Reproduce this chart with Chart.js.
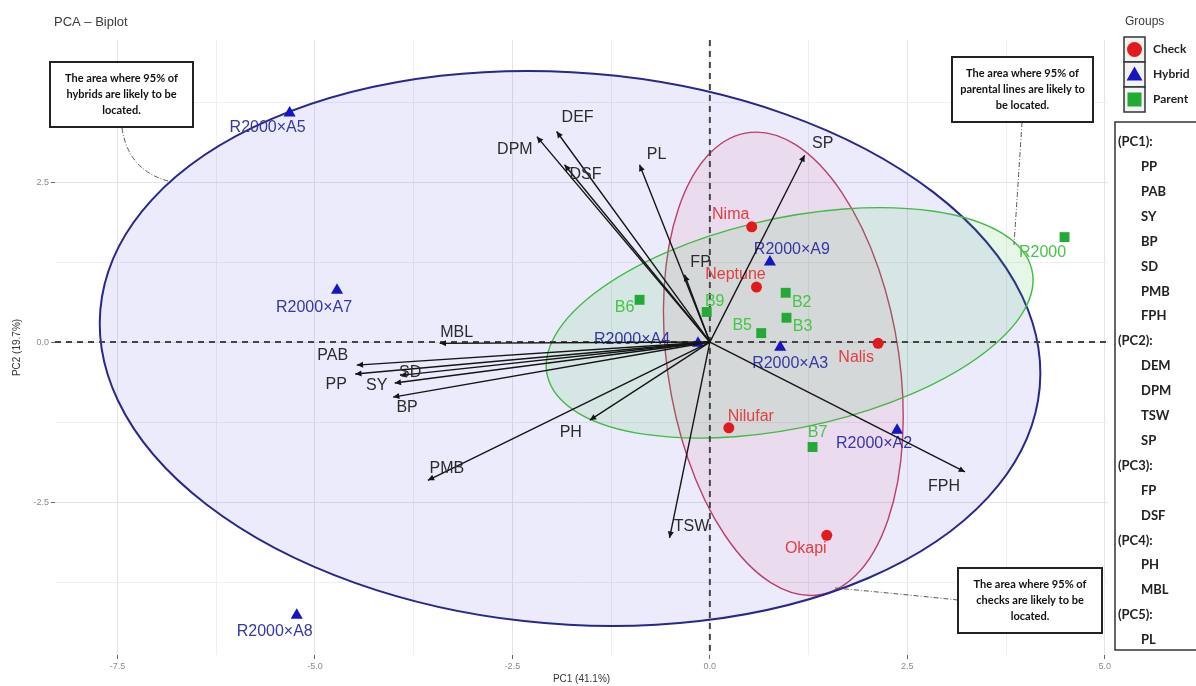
<!DOCTYPE html>
<html>
<head>
<meta charset="utf-8">
<script src="https://cdn.jsdelivr.net/npm/chart.js@4.4.1/dist/chart.umd.min.js"></script>
<style>
  html, body { margin: 0; padding: 0; background: #fff; }
</style>
</head>
<body>
<canvas id="biplot" width="1196" height="686"></canvas>
<script>
// individuals (PC1, PC2 scores)
let checkNames = ['Nima', 'Neptune', 'Nalis', 'Nilufar', 'Okapi'];
let checkX = [0.53, 0.59, 2.13, 0.24, 1.48];
let checkY = [1.80, 0.86, -0.02, -1.34, -3.02];

let hybridNames = ['R2000×A5', 'R2000×A7', 'R2000×A8', 'R2000×A9', 'R2000×A4', 'R2000×A3', 'R2000×A2'];
let hybridX = [-5.32, -4.72, -5.23, 0.76, -0.15, 0.89, 2.37];
let hybridY = [3.58, 0.81, -4.27, 1.25, -0.02, -0.08, -1.38];

let parentNames = ['R2000', 'B6', 'B9', 'B2', 'B3', 'B5', 'B7'];
let parentX = [4.49, -0.89, -0.04, 0.96, 0.97, 0.65, 1.30];
let parentY = [1.64, 0.66, 0.47, 0.77, 0.38, 0.14, -1.64];

// variable loadings (arrow tips)
let varNames = ['PP', 'PAB', 'SY', 'BP', 'SD', 'PMB', 'FPH', 'DEF', 'DPM', 'TSW', 'SP', 'FP', 'DSF', 'PH', 'MBL', 'PL'];
let varX = [-4.49, -4.47, -3.99, -4.01, -3.92, -3.57, 3.23, -1.94, -2.19, -0.51, 1.20, -0.32, -1.84, -1.52, -3.42, -0.89];
let varY = [-0.50, -0.36, -0.64, -0.86, -0.52, -2.16, -2.03, 3.29, 3.21, -3.06, 2.92, 1.05, 2.77, -1.22, -0.02, 2.77];

// 95% ellipses per group: centre, semi axes, rotation (degrees)
let ellipseGroups = ['Check', 'Hybrid', 'Parent'];
let ellipseCx = [0.93, -1.77, 1.01];
let ellipseCy = [-0.34, -0.10, 0.30];
let ellipseA = [3.64, 5.98, 3.18];
let ellipseB = [1.47, 4.30, 1.62];
let ellipseAngle = [-83.5, -7.8, 16.7];

// axis ticks
let xMajor = [-7.5, -5.0, -2.5, 0.0, 2.5, 5.0];
let xMinor = [-6.25, -3.75, -1.25, 1.25, 3.75];
let yMajor = [-2.5, 0.0, 2.5];
let yMinor = [-3.75, -1.25, 1.25, 3.75];

// legend contents
let pcHeaders = ['(PC1):', '(PC2):', '(PC3):', '(PC4):', '(PC5):'];
let pcMembers = [['PP', 'PAB', 'SY', 'BP', 'SD', 'PMB', 'FPH'], ['DEM', 'DPM', 'TSW', 'SP'], ['FP', 'DSF'], ['PH', 'MBL'], ['PL']];

// ---- styles, label nudges (pixels) ----
let groupColors = {Check: '#e31a1c', Hybrid: '#1515c4', Parent: '#23a936'};
let labelColors = {Check: '#df4040', Hybrid: '#3636a6', Parent: '#46c546'};
let ellipseFill = ['rgba(240,90,120,0.11)', 'rgba(70,70,225,0.11)', 'rgba(60,190,60,0.12)'];
let ellipseLine = ['#c8415a', '#27278c', '#45b845'];
let ellipseWidth = [1.4, 2, 1.4];

let checkNudge = [[-21, -12], [-21, -12], [-22, 14], [22, -11], [-21, 13]];
let hybridNudge = [[-22, 15], [-23, 17], [-22, 16], [22, -12], [-66, -4], [10, 16], [-23, 13]];
let parentNudge = [[-22, 15], [-15, 8], [8, -10], [16, 10], [16, 9], [-19, -8], [5, -14]];
let varNudge = [[-19, 11], [-24, -10], [-18, 3], [14, 10], [10, -3], [19, -12], [-21, 15], [21, -14],
                [-22, 13], [22, -11], [18, -12], [16, -12], [21, 10], [-19, 12], [17, -11], [17, -10]];

let notes = [
    {box: [50, 62, 143, 65], lines: ['The area where 95% of', 'hybrids are likely to be', 'located.'],
     lead: [[122, 128], [128, 170], [168, 181]]},
    {box: [952, 57, 141, 65], lines: ['The area where 95% of', 'parental lines are likely to', 'be located.'],
     lead: [[1022, 122], [1018, 185], [1014, 245]]},
    {box: [958, 568, 144, 65], lines: ['The area where 95% of', 'checks are likely to be', 'located.'],
     lead: [[958, 600], [900, 594], [835, 588]]},
];

const LABEL_FONT = '16px "Liberation Sans", Arial, sans-serif';

function toPoints(xs, ys) {
    return xs.map(function(x, i) { return {x: x, y: ys[i]}; });
}

function isMajor(v, majors) {
    return majors.some(function(m) { return Math.abs(m - v) < 1e-6; });
}

// ellipses and the dashed zero lines, under everything else
let ellipsePlugin = {
    id: 'ellipses',
    beforeDatasetsDraw(chart) {
        let ctx = chart.ctx, xs = chart.scales.x, ys = chart.scales.y, area = chart.chartArea;
        let kx = xs.getPixelForValue(1) - xs.getPixelForValue(0);
        let ky = ys.getPixelForValue(1) - ys.getPixelForValue(0);
        ctx.save();
        ctx.beginPath();
        ctx.rect(area.left, area.top, area.right - area.left, area.bottom - area.top);
        ctx.clip();
        for (let i = 0; i < ellipseGroups.length; i++) {
            ctx.save();
            ctx.beginPath();
            ctx.translate(xs.getPixelForValue(ellipseCx[i]), ys.getPixelForValue(ellipseCy[i]));
            ctx.scale(kx, ky);
            ctx.rotate(ellipseAngle[i] * Math.PI / 180);
            ctx.ellipse(0, 0, ellipseA[i], ellipseB[i], 0, 0, Math.PI * 2);
            ctx.restore();
            ctx.fillStyle = ellipseFill[i];
            ctx.fill();
            ctx.strokeStyle = ellipseLine[i];
            ctx.lineWidth = ellipseWidth[i];
            ctx.stroke();
        }
        // dashed zero lines
        let x0 = xs.getPixelForValue(0), y0 = ys.getPixelForValue(0);
        ctx.setLineDash([6, 5]);
        ctx.strokeStyle = '#454545';
        ctx.lineWidth = 2;
        ctx.beginPath();
        ctx.moveTo(area.left, y0); ctx.lineTo(area.right, y0);
        ctx.moveTo(x0, area.top); ctx.lineTo(x0, area.bottom);
        ctx.stroke();
        ctx.restore();
    }
};

// point labels straight after the points, so the arrows cross over them
let labelPlugin = {
    id: 'pointlabels',
    afterDatasetDraw(chart, args) {
        let ds = chart.data.datasets[args.index];
        if (!ds.names) return;
        let ctx = chart.ctx;
        let meta = chart.getDatasetMeta(args.index);
        ctx.save();
        ctx.font = LABEL_FONT;
        ctx.textAlign = 'center';
        ctx.textBaseline = 'middle';
        ctx.fillStyle = labelColors[ds.label];
        meta.data.forEach(function(el, j) {
            ctx.fillText(ds.names[j], el.x + ds.nudge[j][0], el.y + ds.nudge[j][1]);
        });
        ctx.restore();
    }
};

// arrow heads and variable names
let arrowPlugin = {
    id: 'arrows',
    afterDatasetsDraw(chart) {
        let ctx = chart.ctx, xs = chart.scales.x, ys = chart.scales.y;
        let ox = xs.getPixelForValue(0), oy = ys.getPixelForValue(0);
        ctx.save();
        ctx.fillStyle = '#151515';
        for (let i = 0; i < varNames.length; i++) {
            let tx = xs.getPixelForValue(varX[i]), ty = ys.getPixelForValue(varY[i]);
            let ang = Math.atan2(ty - oy, tx - ox);
            let len = 7, wing = 0.45;
            ctx.beginPath();
            ctx.moveTo(tx, ty);
            ctx.lineTo(tx - len * Math.cos(ang - wing), ty - len * Math.sin(ang - wing));
            ctx.lineTo(tx - len * Math.cos(ang + wing), ty - len * Math.sin(ang + wing));
            ctx.closePath();
            ctx.fill();
        }
        ctx.font = LABEL_FONT;
        ctx.textAlign = 'center';
        ctx.textBaseline = 'middle';
        ctx.fillStyle = '#2b2b2b';
        for (let i = 0; i < varNames.length; i++) {
            let tx = xs.getPixelForValue(varX[i]), ty = ys.getPixelForValue(varY[i]);
            ctx.fillText(varNames[i], tx + varNudge[i][0], ty + varNudge[i][1]);
        }
        ctx.restore();
    }
};

// titles, notes and the two legends
let decorPlugin = {
    id: 'decor',
    afterDraw(chart) {
        let ctx = chart.ctx, area = chart.chartArea;
        ctx.save();
        ctx.fillStyle = '#3a3a3a';
        ctx.font = '13px "Liberation Sans", Arial, sans-serif';
        ctx.textAlign = 'left';
        ctx.textBaseline = 'middle';
        ctx.fillText('PCA – Biplot', 54, 22);

        ctx.font = '10px "Liberation Sans", Arial, sans-serif';
        ctx.textAlign = 'center';
        ctx.fillStyle = '#333';
        ctx.fillText('PC1 (41.1%)', (area.left + area.right) / 2, 679);
        ctx.save();
        ctx.translate(17, (area.top + area.bottom) / 2);
        ctx.rotate(-Math.PI / 2);
        ctx.fillText('PC2 (19.7%)', 0, 0);
        ctx.restore();

        // notes with leader lines
        notes.forEach(function(n) {
            ctx.save();
            ctx.strokeStyle = '#555';
            ctx.lineWidth = 1;
            ctx.setLineDash([5, 2, 1, 2]);
            ctx.beginPath();
            ctx.moveTo(n.lead[0][0], n.lead[0][1]);
            ctx.quadraticCurveTo(n.lead[1][0], n.lead[1][1], n.lead[2][0], n.lead[2][1]);
            ctx.stroke();
            ctx.restore();
            let b = n.box;
            ctx.fillStyle = '#fff';
            ctx.fillRect(b[0], b[1], b[2], b[3]);
            ctx.strokeStyle = '#222';
            ctx.lineWidth = 2;
            ctx.strokeRect(b[0], b[1], b[2], b[3]);
            ctx.fillStyle = '#111';
            ctx.font = 'bold 11px Lato, "Open Sans", sans-serif';
            ctx.textAlign = 'center';
            let cy = b[1] + b[3] / 2;
            n.lines.forEach(function(t, k) {
                ctx.fillText(t, b[0] + b[2] / 2, cy + (k - 1) * 16);
            });
        });

        // groups legend
        ctx.fillStyle = '#3a3a3a';
        ctx.font = '12px "Liberation Sans", Arial, sans-serif';
        ctx.textAlign = 'left';
        ctx.fillText('Groups', 1125, 22);
        let keyX = 1124, keyY = 37, keyS = 25;
        ['Check', 'Hybrid', 'Parent'].forEach(function(g, k) {
            let y = keyY + k * keyS;
            ctx.fillStyle = '#f3f3f3';
            ctx.fillRect(keyX, y, 21, keyS);
            ctx.strokeStyle = '#333';
            ctx.lineWidth = 1.5;
            ctx.strokeRect(keyX, y, 21, keyS);
            let cx = keyX + 10.5, cy = y + keyS / 2;
            ctx.fillStyle = groupColors[g];
            ctx.beginPath();
            if (g == 'Check') {
                ctx.arc(cx, cy, 7.5, 0, Math.PI * 2);
            } else if (g == 'Hybrid') {
                ctx.moveTo(cx, cy - 8); ctx.lineTo(cx + 8, cy + 6); ctx.lineTo(cx - 8, cy + 6); ctx.closePath();
            } else {
                ctx.rect(cx - 7, cy - 7, 14, 14);
            }
            ctx.fill();
            ctx.fillStyle = '#222';
            ctx.font = 'bold 12px Lato, "Open Sans", sans-serif';
            ctx.fillText(g, 1153, cy);
        });

        // variables per component
        ctx.strokeStyle = '#333';
        ctx.lineWidth = 1.5;
        ctx.strokeRect(1115, 122, 100, 528);
        ctx.fillStyle = '#222';
        ctx.font = 'bold 13px Lato, "Open Sans", sans-serif';
        let row = 0, step = 24.9, top = 142;
        for (let i = 0; i < pcHeaders.length; i++) {
            ctx.fillText(pcHeaders[i], 1118, top + row * step);
            row++;
            pcMembers[i].forEach(function(m) {
                ctx.fillText(m, 1141, top + row * step);
                row++;
            });
        }
        ctx.restore();
    }
};

let datasets = [
    {label: 'Check', names: checkNames, nudge: checkNudge, data: toPoints(checkX, checkY),
     pointStyle: 'circle', pointRadius: 5.5, backgroundColor: groupColors.Check, borderWidth: 0, order: 2},
    {label: 'Hybrid', names: hybridNames, nudge: hybridNudge, data: toPoints(hybridX, hybridY),
     pointStyle: 'triangle', pointRadius: 7, backgroundColor: groupColors.Hybrid, borderWidth: 0, order: 2},
    {label: 'Parent', names: parentNames, nudge: parentNudge, data: toPoints(parentX, parentY),
     pointStyle: 'rect', pointRadius: 7, backgroundColor: groupColors.Parent, borderWidth: 0, order: 2},
];
// one short line per variable, origin to tip
for (let i = 0; i < varNames.length; i++) {
    datasets.push({
        label: varNames[i],
        data: [{x: 0, y: 0}, {x: varX[i], y: varY[i]}],
        showLine: true, pointRadius: 0, borderColor: '#151515', borderWidth: 1.4, order: 1,
    });
}

let gridColor = function(majors) {
    return function(c) {
        if (!c.tick) return '#eeeeee';
        return isMajor(c.tick.value, majors) ? '#e4e4e4' : '#efefef';
    };
};
let tickMarkColor = function(majors) {
    return function(c) {
        if (!c.tick) return 'rgba(0,0,0,0)';
        return isMajor(c.tick.value, majors) ? '#666' : 'rgba(0,0,0,0)';
    };
};

new Chart(document.getElementById('biplot'), {
    type: 'scatter',
    data: {datasets: datasets},
    options: {
        responsive: false,
        animation: false,
        devicePixelRatio: 1,
        layout: {padding: {left: 0, top: 40, right: 88, bottom: 0}},
        plugins: {legend: {display: false}, tooltip: {enabled: false}},
        scales: {
            x: {
                type: 'linear', min: -8.29, max: 5.04,
                afterBuildTicks: function(s) {
                    s.ticks = xMajor.concat(xMinor).sort(function(a, b) { return a - b; })
                        .map(function(v) { return {value: v}; });
                },
                afterFit: function(s) { s.height = 31; },
                border: {display: false},
                grid: {color: gridColor(xMajor), tickColor: tickMarkColor(xMajor), tickLength: 4, lineWidth: 1},
                ticks: {
                    autoSkip: false, maxRotation: 0, padding: 2,
                    color: '#8a8a8a', font: {family: '"Liberation Sans", Arial, sans-serif', size: 9},
                    callback: function(v) { return isMajor(v, xMajor) ? v.toFixed(1) : ''; }
                }
            },
            y: {
                type: 'linear', min: -4.89, max: 4.72,
                afterBuildTicks: function(s) {
                    s.ticks = yMajor.concat(yMinor).sort(function(a, b) { return a - b; })
                        .map(function(v) { return {value: v}; });
                },
                afterFit: function(s) { s.width = 55; },
                border: {display: false},
                grid: {color: gridColor(yMajor), tickColor: tickMarkColor(yMajor), tickLength: 4, lineWidth: 1},
                ticks: {
                    autoSkip: false, padding: 2,
                    color: '#8a8a8a', font: {family: '"Liberation Sans", Arial, sans-serif', size: 9},
                    callback: function(v) { return isMajor(v, yMajor) ? v.toFixed(1) : ''; }
                }
            }
        }
    },
    plugins: [ellipsePlugin, labelPlugin, arrowPlugin, decorPlugin]
});
</script>
</body>
</html>
